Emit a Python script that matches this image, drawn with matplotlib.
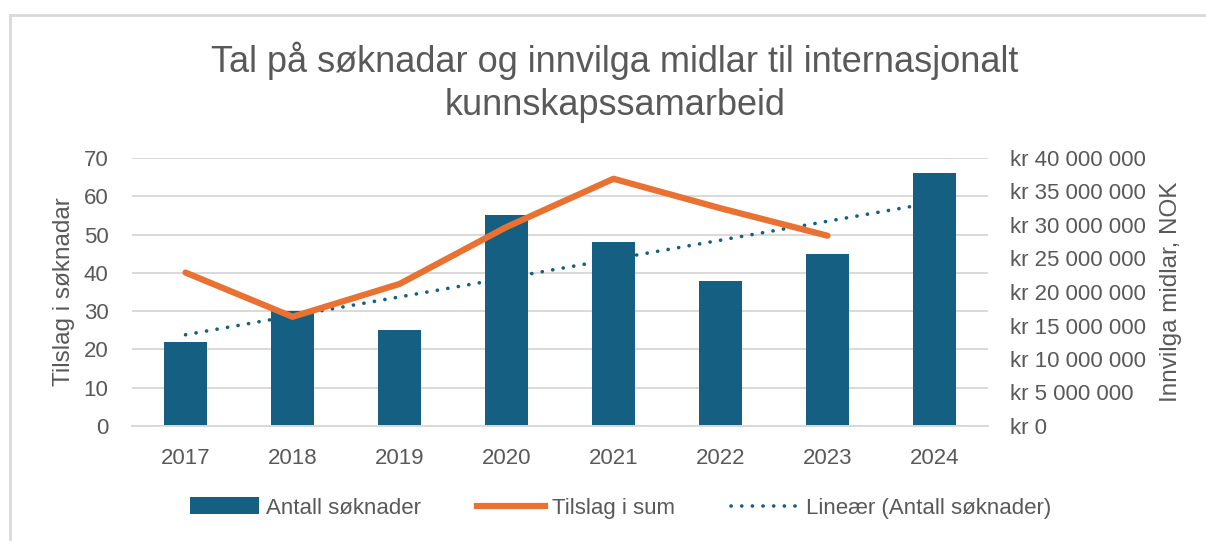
import matplotlib
matplotlib.use("Agg")
import matplotlib.pyplot as plt
from matplotlib.patches import Patch
from matplotlib.lines import Line2D
from matplotlib.ticker import FuncFormatter
import numpy as np

years = ["2017", "2018", "2019", "2020", "2021", "2022", "2023", "2024"]
antall_soknader = [22, 30, 25, 55, 48, 38, 45, 66]
tilslag_sum = [22_900_000, 16_300_000, 21_200_000, 29_700_000, 36_900_000,
               32_500_000, 28_400_000]

BLUE = "#156082"
ORANGE = "#E97132"
TEXT = "#595959"
GRID = "#D9D9D9"

plt.rcParams["font.family"] = ["Liberation Sans", "DejaVu Sans"]

fig = plt.figure(figsize=(12.06, 5.41), dpi=100)
W, H = 1206, 541
ax = fig.add_axes([132 / W, 1 - 426 / H, (988 - 132) / W, 268 / H])
ax2 = ax.twinx()

x = np.arange(len(years))

# søyler + lineær trendlinje
ax.bar(x, antall_soknader, width=0.4, color=BLUE, zorder=2)
k, m = np.polyfit(x, antall_soknader, 1)
ax.plot(x, k * x + m, color=BLUE, lw=2.6, linestyle=(0, (0.05, 2.9)),
        dash_capstyle="round", zorder=3)

# sum innvilga midlar på høgre akse
ax2.plot(x[:len(tilslag_sum)], tilslag_sum, color=ORANGE, lw=4.5,
         solid_joinstyle="round", solid_capstyle="round", zorder=4)

ax.set_xlim(-0.5, len(years) - 0.5)
ax.set_ylim(0, 70)
ax.set_yticks(range(0, 71, 10))
ax2.set_ylim(0, 40_000_000)
ax2.set_yticks(range(0, 40_000_001, 5_000_000))
ax2.yaxis.set_major_formatter(
    FuncFormatter(lambda v, p: "kr " + f"{int(v):,}".replace(",", " ")))

ax.set_xticks(x)
ax.set_xticklabels(years)
ax.yaxis.grid(True, color=GRID, lw=1.4, zorder=0)
ax.set_axisbelow(True)

for a in (ax, ax2):
    for s in a.spines.values():
        s.set_visible(False)
    a.tick_params(length=0, labelsize=16, labelcolor=TEXT)
ax.tick_params(axis="y", pad=17)
ax.tick_params(axis="x", pad=16)
ax2.tick_params(axis="y", pad=16)
ax.spines["bottom"].set_visible(True)
ax.spines["bottom"].set_color(GRID)
ax.spines["bottom"].set_linewidth(1.4)

ax.set_ylabel("Tilslag i søknadar", fontsize=17.5, color=TEXT, labelpad=6)
ax2.set_ylabel("Innvilga midlar, NOK", fontsize=17.5, color=TEXT, labelpad=10)

fig.text(615 / W, 1 - 82 / H,
         "Tal på søknadar og innvilga midlar til internasjonalt\nkunnskapssamarbeid",
         ha="center", va="center", fontsize=26, color=TEXT, linespacing=1.3)

handles = [
    Patch(facecolor=BLUE, edgecolor="none"),
    Line2D([], [], color=ORANGE, lw=4.5),
    Line2D([], [], color=BLUE, lw=2.6, linestyle=(0, (0.05, 2.9)),
           dash_capstyle="round"),
]
labels = ["Antall søknader", "Tilslag i sum", "Lineær (Antall søknader)"]
fig.legend(handles, labels, loc="center", bbox_to_anchor=(621 / W, 1 - 508 / H),
           ncol=3, frameon=False, fontsize=16, labelcolor=TEXT,
           handlelength=3.1, handleheight=0.8, handletextpad=0.3,
           columnspacing=2.5)

# ramme rundt diagrammet
fig.add_artist(Line2D([10 / W, 1], [1 - 15 / H, 1 - 15 / H],
                      transform=fig.transFigure, color=GRID, lw=2))
fig.add_artist(Line2D([10 / W, 10 / W], [0, 1 - 15 / H],
                      transform=fig.transFigure, color=GRID, lw=2))

fig.savefig("out.png", dpi=100)
